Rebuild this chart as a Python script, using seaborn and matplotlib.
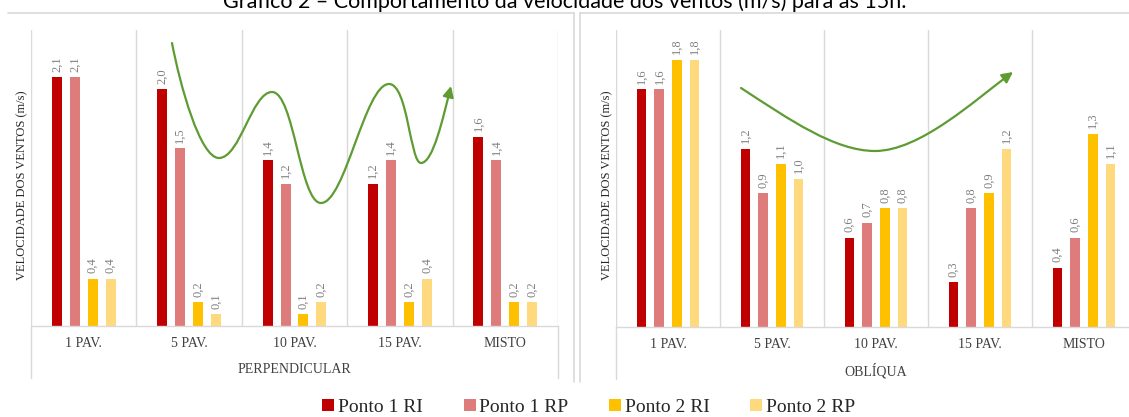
import numpy as np
import pandas as pd
import matplotlib
matplotlib.use("Agg")
import matplotlib.pyplot as plt
import seaborn as sns
from matplotlib.path import Path
from matplotlib.patches import FancyArrowPatch
from matplotlib.lines import Line2D
import matplotlib.transforms as mtransforms

# ---------------- data ----------------
categories = ["1 PAV.", "5 PAV.", "10 PAV.", "15 PAV.", "MISTO"]
series_names = ["Ponto 1 RI", "Ponto 1 RP", "Ponto 2 RI", "Ponto 2 RP"]

perp_p1_ri = [2.1, 2.0, 1.4, 1.2, 1.6]
perp_p1_rp = [2.1, 1.5, 1.2, 1.4, 1.4]
perp_p2_ri = [0.4, 0.2, 0.1, 0.2, 0.2]
perp_p2_rp = [0.4, 0.1, 0.2, 0.4, 0.2]

obl_p1_ri = [1.6, 1.2, 0.6, 0.3, 0.4]
obl_p1_rp = [1.6, 0.9, 0.7, 0.8, 0.6]
obl_p2_ri = [1.8, 1.1, 0.8, 0.9, 1.3]
obl_p2_rp = [1.8, 1.0, 0.8, 1.2, 1.1]

title = "Gráfico 2 – Comportamento da velocidade dos ventos (m/s) para as 15h."
ylabel = "VELOCIDADE DOS VENTOS (m/s)"
group_titles = ["PERPENDICULAR", "OBLÍQUA"]

colors = ["#C00000", "#DE7C7C", "#FFC000", "#FFD97D"]

# ---------------- style ----------------
sns.set_style("white")
plt.rcParams["font.family"] = ["Liberation Serif", "DejaVu Serif"]

W, H = 1129, 417
fig = plt.figure(figsize=(W / 100, H / 100), dpi=100)

# pixel (top-left origin) transform
px = mtransforms.Affine2D().scale(1 / W, -1 / H).translate(0, 1) + fig.transFigure

grid_c = "#D9D9D9"
green = "#5E9C33"


def make_df(vals):
    rows = []
    for s, v in zip(series_names, vals):
        for c, x in zip(categories, v):
            rows.append({"cat": c, "serie": s, "val": x})
    return pd.DataFrame(rows)


def draw_panel(ax, vals, ymax, gtitle):
    df = make_df(vals)
    sns.barplot(data=df, x="cat", y="val", hue="serie", order=categories,
                hue_order=series_names, palette=colors, saturation=1,
                width=0.68, gap=0.44, linewidth=0, ax=ax, legend=False,
                errorbar=None)
    ax.set_xlim(-0.5, len(categories) - 0.5)
    ax.set_ylim(0, ymax)
    for b in np.arange(-0.5, len(categories), 1.0):
        ax.axvline(b, color=grid_c, lw=1, zorder=0)
    for cont in ax.containers:
        ax.bar_label(cont, labels=[f"{v:.1f}".replace(".", ",") for v in cont.datavalues],
                     rotation=90, padding=4, color="#7F7F7F", fontsize=9,
                     family=["Liberation Serif"])
    ax.set_yticks([])
    ax.set_xlabel("")
    ax.set_ylabel("")
    ax.tick_params(axis="x", length=0, pad=8, labelsize=10, labelcolor="#404040")
    for sp in ["top", "left", "right"]:
        ax.spines[sp].set_visible(False)
    ax.spines["bottom"].set_color(grid_c)
    ax.spines["bottom"].set_linewidth(1)
    # outer category frame lines extending below the axis
    for xe in [0, 1]:
        ax.add_line(Line2D([xe, xe], [0, -0.176], transform=ax.transAxes,
                           color=grid_c, lw=1, clip_on=False))
    ax.text(0.5, -0.148, gtitle, transform=ax.transAxes, ha="center", va="center",
            fontsize=10, color="#404040")


axL = fig.add_axes([31 / W, 91 / H, 527 / W, 296 / H])
draw_panel(axL, [perp_p1_ri, perp_p1_rp, perp_p2_ri, perp_p2_rp], 2.5, group_titles[0])
axR = fig.add_axes([616 / W, 90 / H, 520 / W, 297 / H])
draw_panel(axR, [obl_p1_ri, obl_p1_rp, obl_p2_ri, obl_p2_rp], 2.0, group_titles[1])

# y labels
fig.text(22 / W, 1 - 185 / H, ylabel, rotation=90, ha="center", va="center",
         fontsize=9, color="#262626")
fig.text(607 / W, 1 - 185 / H, ylabel, rotation=90, ha="center", va="center",
         fontsize=9, color="#262626")

# chart frames
for xs, ys in [([8, 574], [13, 13]), ([574, 574], [13, 382]),
               ([580, 1129], [13, 13]), ([580, 580], [13, 382])]:
    fig.add_artist(Line2D(xs, ys, transform=px, color=grid_c, lw=1.2))

# title (partially cut at the top as in the reference)
fig.text(565 / W, 1 - 8 / H, title, ha="center", va="baseline", fontsize=15.5,
         family=["Lato", "DejaVu Sans"], color="#000000")

# green trend arrows (annotations)
M, C = Path.MOVETO, Path.CURVE4
left_verts = [(172, 43),
              (180, 85), (200, 158), (219, 158),
              (240, 158), (252, 92), (272, 92),
              (294, 92), (300, 203), (321, 203),
              (345, 203), (365, 84), (389, 84),
              (408, 84), (410, 163), (421, 163),
              (433, 163), (443, 118), (451, 86)]
left_codes = [M] + [C] * (len(left_verts) - 1)
fig.add_artist(FancyArrowPatch(path=Path(left_verts, left_codes), transform=px,
                               arrowstyle="-|>", mutation_scale=16, color=green, lw=1.6))

right_verts = [(741, 88),
               (790, 120), (835, 151), (875, 151),
               (920, 151), (975, 100), (1013, 72)]
right_codes = [M] + [C] * (len(right_verts) - 1)
fig.add_artist(FancyArrowPatch(path=Path(right_verts, right_codes), transform=px,
                               arrowstyle="-|>", mutation_scale=16, color=green, lw=1.6))

# legend
handles = [Line2D([], [], marker="s", linestyle="", markersize=8, markerfacecolor=c,
                  markeredgewidth=0) for c in colors]
fig.legend(handles, series_names, loc="center", bbox_to_anchor=(588 / W, 1 - 407 / H),
           ncol=4, frameon=False, fontsize=14, handletextpad=0.1, columnspacing=2.0,
           handlelength=0.8, labelcolor="#262626")

fig.savefig("out.png", dpi=100)
